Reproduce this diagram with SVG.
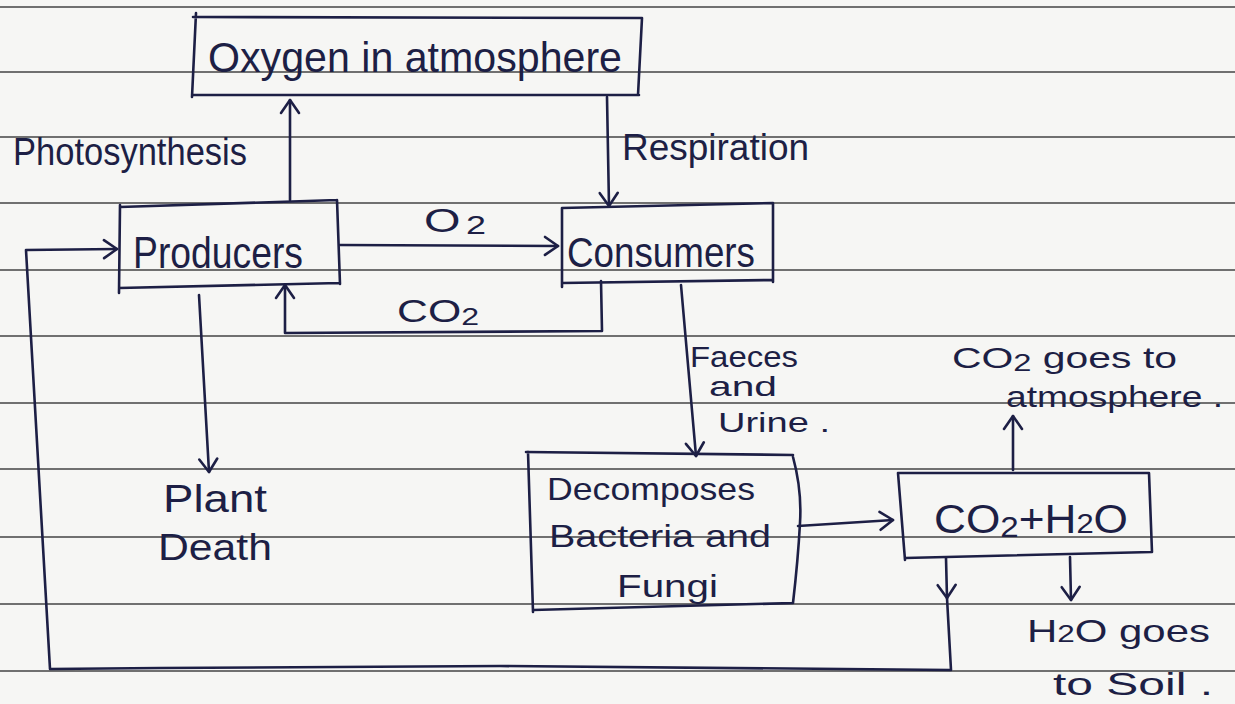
<svg xmlns="http://www.w3.org/2000/svg" width="1235" height="704" viewBox="0 0 1235 704">
  <style>
    .rule { stroke: #707070; stroke-width: 2; }
    .ink { fill: none; stroke: #1d1f45; stroke-width: 2.6; stroke-linecap: round; stroke-linejoin: round; }
    .hand { font-family: "Liberation Sans", "DejaVu Sans", sans-serif; fill: #1d1f45; }
  </style>
  <defs>
    <!-- open hand-drawn chevron arrowhead -->
    <marker id="chev" viewBox="-20 -14 24 28" refX="0" refY="0" markerWidth="24" markerHeight="28" markerUnits="userSpaceOnUse" orient="auto" overflow="visible">
      <path d="M-13,-9 L0,0 L-13,9" fill="none" stroke="#1d1f45" stroke-width="2.6" stroke-linecap="round" stroke-linejoin="round"/>
    </marker>
  </defs>

  <!-- paper -->
  <rect width="1235" height="704" fill="#f6f6f4"/>
  <g id="ruling">
    <line class="rule" x1="0" y1="7" x2="1235" y2="7"/>
    <line class="rule" x1="0" y1="72" x2="1235" y2="72"/>
    <line class="rule" x1="0" y1="137" x2="1235" y2="137"/>
    <line class="rule" x1="0" y1="203" x2="1235" y2="203"/>
    <line class="rule" x1="0" y1="270" x2="1235" y2="270"/>
    <line class="rule" x1="0" y1="336" x2="1235" y2="336"/>
    <line class="rule" x1="0" y1="403" x2="1235" y2="403"/>
    <line class="rule" x1="0" y1="469" x2="1235" y2="469"/>
    <line class="rule" x1="0" y1="537" x2="1235" y2="537"/>
    <line class="rule" x1="0" y1="604" x2="1235" y2="604"/>
    <line class="rule" x1="0" y1="671" x2="1235" y2="671"/>
  </g>

  <!-- connectors -->
  <g id="connectors">
    <!-- photosynthesis: producers up to oxygen -->
    <path class="ink" d="M290,200 L290,100" marker-end="url(#chev)"/>
    <!-- respiration: oxygen down to consumers -->
    <path class="ink" d="M607,97 L609,206" marker-end="url(#chev)"/>
    <!-- O2 -->
    <path class="ink" d="M340,245 L558,246" marker-end="url(#chev)"/>
    <!-- CO2 return -->
    <path class="ink" d="M601,281 L602,331 L285,333 L285,285" marker-end="url(#chev)"/>
    <!-- plant death -->
    <path class="ink" d="M199,295 L209,472" marker-end="url(#chev)"/>
    <!-- faeces and urine -->
    <path class="ink" d="M681,285 L696,456" marker-end="url(#chev)"/>
    <!-- decomposers to CO2 + H2O -->
    <path class="ink" d="M798,526 L893,520" marker-end="url(#chev)"/>
    <!-- CO2 to atmosphere -->
    <path class="ink" d="M1013,470 L1013,416" marker-end="url(#chev)"/>
    <!-- H2O to soil -->
    <path class="ink" d="M1070,557 L1071,600" marker-end="url(#chev)"/>
    <!-- return loop back to producers -->
    <path class="ink" d="M946,558 L947,598"  marker-end="url(#chev)"/>
    <path class="ink" d="M947,598 L951,670 L500,666 L160,668 L50,669 L26,250 L117,249" marker-end="url(#chev)"/>
  </g>

  <!-- nodes -->
  <g id="oxygen">
    <path class="ink" d="M196,13 L192,97 M193,17 L641,18 M192,95 L639,95 M642,18 L638,95"/>
    <text class="hand" x="208" y="72" font-size="42" textLength="414" lengthAdjust="spacingAndGlyphs">Oxygen in atmosphere</text>
  </g>

  <g id="producers">
    <path class="ink" d="M120,205 L119,293 M120,207 L337,200 M119,288 L339,283 M337,200 L340,284"/>
    <text class="hand" x="133" y="268" font-size="44" textLength="170" lengthAdjust="spacingAndGlyphs">Producers</text>
  </g>

  <g id="consumers">
    <path class="ink" d="M562,208 L562,287 M562,208 L773,203 M562,283 L773,280 M773,203 L773,282"/>
    <text class="hand" x="567" y="267" font-size="42" textLength="188" lengthAdjust="spacingAndGlyphs">Consumers</text>
  </g>

  <g id="plant-death">
    <text class="hand" x="163" y="512" font-size="38" textLength="104" lengthAdjust="spacingAndGlyphs">Plant</text>
    <text class="hand" x="158" y="560" font-size="36" textLength="114" lengthAdjust="spacingAndGlyphs">Death</text>
  </g>

  <g id="decomposers">
    <path class="ink" d="M528,452 L533,612 M526,452 L793,455 M533,610 L793,603 M793,457 Q802,490 800,523 Q798,560 793,603"/>
    <text class="hand" x="547" y="500" font-size="32" textLength="208" lengthAdjust="spacingAndGlyphs">Decomposes</text>
    <text class="hand" x="549" y="547" font-size="32" textLength="222" lengthAdjust="spacingAndGlyphs">Bacteria and</text>
    <text class="hand" x="617" y="597" font-size="32" textLength="101" lengthAdjust="spacingAndGlyphs">Fungi</text>
  </g>

  <g id="co2-h2o">
    <path class="ink" d="M898,473 L905,560 M898,473 L1149,473 M905,558 L1152,552 M1149,473 L1152,552"/>
    <text class="hand" x="934" y="533" font-size="40" textLength="194" lengthAdjust="spacingAndGlyphs">CO<tspan font-size="30" dy="4">2</tspan><tspan dy="-4">+H</tspan><tspan font-size="28">2</tspan>O</text>
  </g>

  <!-- connector labels -->
  <g id="labels">
    <text class="hand" x="13" y="165" font-size="38" textLength="234" lengthAdjust="spacingAndGlyphs">Photosynthesis</text>
    <text class="hand" x="622" y="160" font-size="36" textLength="187" lengthAdjust="spacingAndGlyphs">Respiration</text>
    <text class="hand" x="424" y="232" font-size="34" textLength="62" lengthAdjust="spacingAndGlyphs">O<tspan font-size="26" dx="4" dy="2">2</tspan></text>
    <text class="hand" x="397" y="322" font-size="32" textLength="82" lengthAdjust="spacingAndGlyphs">CO<tspan font-size="24" dy="3">2</tspan></text>
    <text class="hand" x="690" y="367" font-size="30" textLength="108" lengthAdjust="spacingAndGlyphs">Faeces</text>
    <text class="hand" x="709" y="396" font-size="28" textLength="68" lengthAdjust="spacingAndGlyphs">and</text>
    <text class="hand" x="718" y="432" font-size="28" textLength="112" lengthAdjust="spacingAndGlyphs">Urine .</text>
    <text class="hand" x="952" y="368" font-size="30" textLength="225" lengthAdjust="spacingAndGlyphs">CO<tspan font-size="24" dy="3">2</tspan><tspan dy="-3"> goes to</tspan></text>
    <text class="hand" x="1006" y="407" font-size="30" textLength="217" lengthAdjust="spacingAndGlyphs">atmosphere .</text>
    <text class="hand" x="1027" y="642" font-size="32" textLength="183" lengthAdjust="spacingAndGlyphs">H<tspan font-size="24">2</tspan>O goes</text>
    <text class="hand" x="1053" y="695" font-size="32" textLength="160" lengthAdjust="spacingAndGlyphs">to Soil .</text>
  </g>
</svg>
